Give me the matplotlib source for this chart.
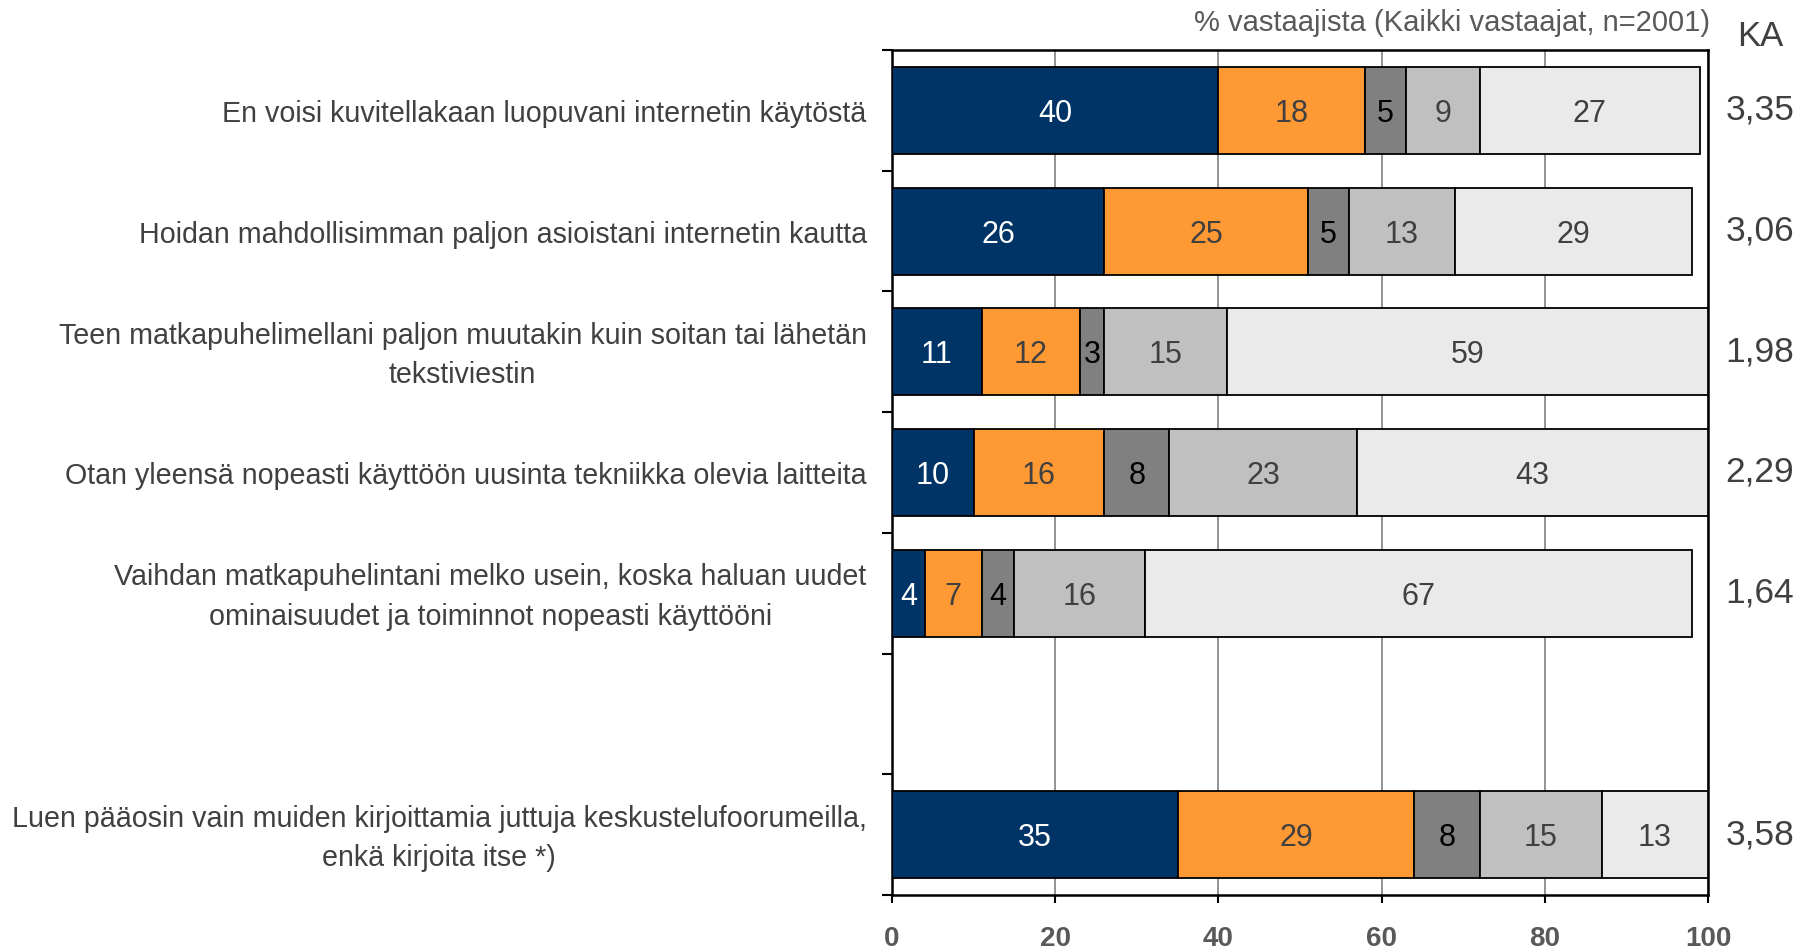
import matplotlib
matplotlib.use("Agg")
import matplotlib.pyplot as plt
import numpy as np

plt.rcParams['font.family'] = ['Liberation Sans', 'DejaVu Sans']

# Statements (None marks an empty slot in the layout)
statements = [
    "En voisi kuvitellakaan luopuvani internetin käytöstä",
    "Hoidan mahdollisimman paljon asioistani internetin kautta",
    "Teen matkapuhelimellani paljon muutakin kuin soitan tai lähetän\ntekstiviestin",
    "Otan yleensä nopeasti käyttöön uusinta tekniikka olevia laitteita",
    "Vaihdan matkapuhelintani melko usein, koska haluan uudet\nominaisuudet ja toiminnot nopeasti käyttööni",
    None,
    "Luen pääosin vain muiden kirjoittamia juttuja keskustelufoorumeilla,\nenkä kirjoita itse *)",
]

# Response shares (%) per answer category, one list per category
share_1 = [40, 26, 11, 10, 4, None, 35]
share_2 = [18, 25, 12, 16, 7, None, 29]
share_3 = [5, 5, 3, 8, 4, None, 8]
share_4 = [9, 13, 15, 23, 16, None, 15]
share_5 = [27, 29, 59, 43, 67, None, 13]

# Mean scores (KA)
means = ["3,35", "3,06", "1,98", "2,29", "1,64", None, "3,58"]

x_ticks = [0, 20, 40, 60, 80, 100]

colors = ["#003366", "#FF9933", "#808080", "#C0C0C0", "#EAEAEA"]
label_colors = ["white", "#404040", "black", "#404040", "#404040"]
series = [share_1, share_2, share_3, share_4, share_5]

fig = plt.figure(figsize=(18.16, 9.49), dpi=100)
ax = fig.add_axes([892 / 1816, 1 - 895 / 949, (1708 - 892) / 1816, (895 - 50) / 949])

n = len(statements)
ypos = np.arange(n)
bar_h = 0.72
text_dy = 0.03  # small downward nudge for text baselines

left = np.zeros(n)
for vals, col, lcol in zip(series, colors, label_colors):
    for i in range(n):
        v = vals[i]
        if v is None:
            continue
        ax.barh(ypos[i], v, left=left[i], height=bar_h, color=col,
                edgecolor="black", linewidth=1.3, zorder=3)
        ax.text(left[i] + v / 2, ypos[i] + text_dy, str(v), ha="center",
                va="center", fontsize=22, color=lcol, zorder=4)
        left[i] += v

ax.set_xlim(0, 100)
ax.set_ylim(n - 0.5, -0.5)

ax.set_xticks(x_ticks)
ax.set_xticklabels([str(t) for t in x_ticks], fontsize=20, fontweight="bold",
                   color="#595959")
ax.tick_params(axis="x", direction="out", length=6, width=1.5, pad=16.5,
               color="black")

# Category boundaries carry the y ticks; labels are placed separately
ax.set_yticks(np.arange(n + 1) - 0.5)
ax.set_yticklabels([])
ax.tick_params(axis="y", direction="out", length=7, width=1.5, color="black")

ax.grid(axis="x", color="#808080", linewidth=1.2, zorder=0)
for s in ax.spines.values():
    s.set_color("black")
    s.set_linewidth(1.8)

for i, lab in enumerate(statements):
    if lab is None:
        continue
    ax.text(-0.031, ypos[i] + text_dy, lab, transform=ax.get_yaxis_transform(),
            ha="right", va="center", multialignment="center",
            fontsize=20.6, color="#404040", linespacing=1.52)

for i, m in enumerate(means):
    if m is None:
        continue
    ax.text(1.0637, ypos[i], m, transform=ax.get_yaxis_transform(),
            ha="center", va="center", fontsize=25.5, color="#404040")

fig.text(1760 / 1816, 1 - 36 / 949, "KA", ha="center", va="center",
         fontsize=25, color="#404040")
fig.text(1710 / 1816, 1 - 23 / 949, "% vastaajista (Kaikki vastaajat, n=2001)",
         ha="right", va="center", fontsize=21, color="#595959")

fig.savefig("out.png", dpi=100)
